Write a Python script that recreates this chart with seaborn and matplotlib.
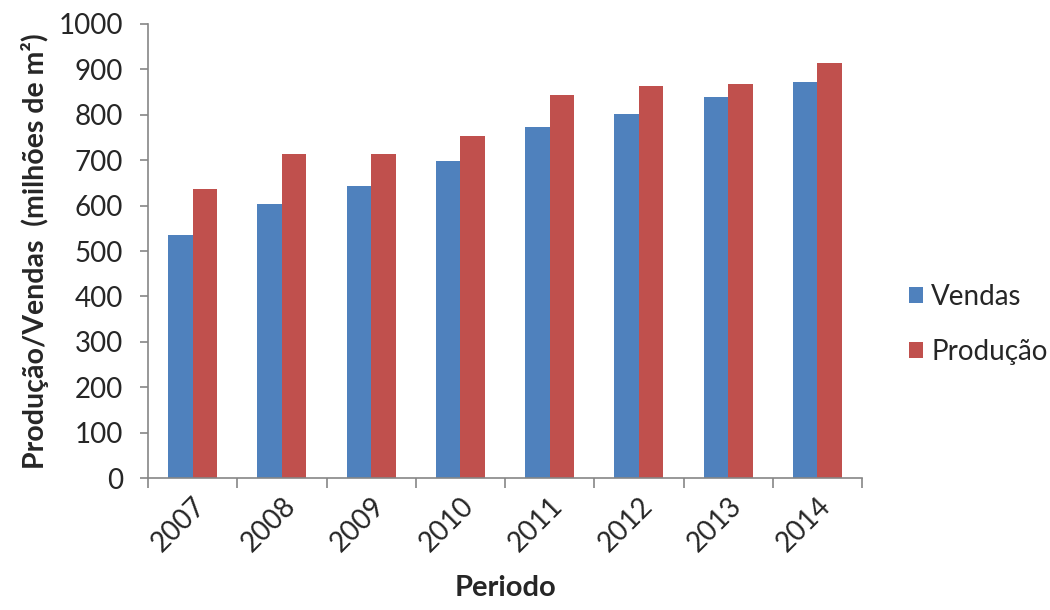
import matplotlib
matplotlib.use("Agg")
import matplotlib.pyplot as plt
import matplotlib.ticker as mticker
import numpy as np
import pandas as pd
import seaborn as sns

# Annual ceramic tile sales and production (million m²)
anos = ["2007", "2008", "2009", "2010", "2011", "2012", "2013", "2014"]
vendas = [536, 604, 644, 697, 772, 802, 838, 873]
producao = [637, 714, 714, 753, 844, 864, 868, 914]
series = ["Vendas", "Produção"]
cores = ["#4F81BD", "#C0504D"]

df = pd.DataFrame({
    "Periodo": anos * 2,
    "valor": vendas + producao,
    "serie": [series[0]] * len(anos) + [series[1]] * len(anos),
})

sns.set_style("white")
plt.rcParams["font.family"] = ["Lato", "DejaVu Sans"]

fig = plt.figure(figsize=(10.5, 6.1), dpi=100)
ax = fig.add_axes([0.141, 0.216, 0.680, 0.745])

sns.barplot(data=df, x="Periodo", y="valor", hue="serie", hue_order=series,
            palette=cores, width=0.55, gap=0, saturation=1, ax=ax,
            edgecolor="none", linewidth=0)

ax.set_ylim(0, 1000)
ax.set_xlim(-0.5, len(anos) - 0.5)
ax.yaxis.set_major_locator(mticker.MultipleLocator(100))

axis_grey = "#868686"
for s in ["top", "right"]:
    ax.spines[s].set_visible(False)
for s in ["left", "bottom"]:
    ax.spines[s].set_color(axis_grey)
    ax.spines[s].set_linewidth(1.2)

ax.tick_params(axis="y", which="major", left=True, length=6, width=1.2,
               color=axis_grey, labelsize=20, labelcolor="#262626", pad=12)
ax.tick_params(axis="x", which="major", bottom=False, labelsize=20,
               labelcolor="#262626", pad=7)
ax.xaxis.set_minor_locator(mticker.FixedLocator(np.arange(-0.5, len(anos), 1.0)))
ax.tick_params(axis="x", which="minor", bottom=True, length=7, width=1.2,
               color=axis_grey)
for lbl in ax.get_xticklabels():
    lbl.set_rotation(45)
    lbl.set_ha("right")
    lbl.set_va("top")
    lbl.set_rotation_mode("anchor")

ax.set_xlabel("Periodo", fontsize=21, fontweight="bold", labelpad=13)
ax.set_ylabel("Produção/Vendas  (milhões de m²)", fontsize=20.5,
              fontweight="bold", labelpad=7)

leg = ax.legend(loc="center left", bbox_to_anchor=(1.05, 0.338), frameon=False,
                fontsize=20, handlelength=0.5, handleheight=0.5,
                handletextpad=0.3, labelspacing=1.05, borderaxespad=0)

fig.savefig("out.png", dpi=100, facecolor="white")
